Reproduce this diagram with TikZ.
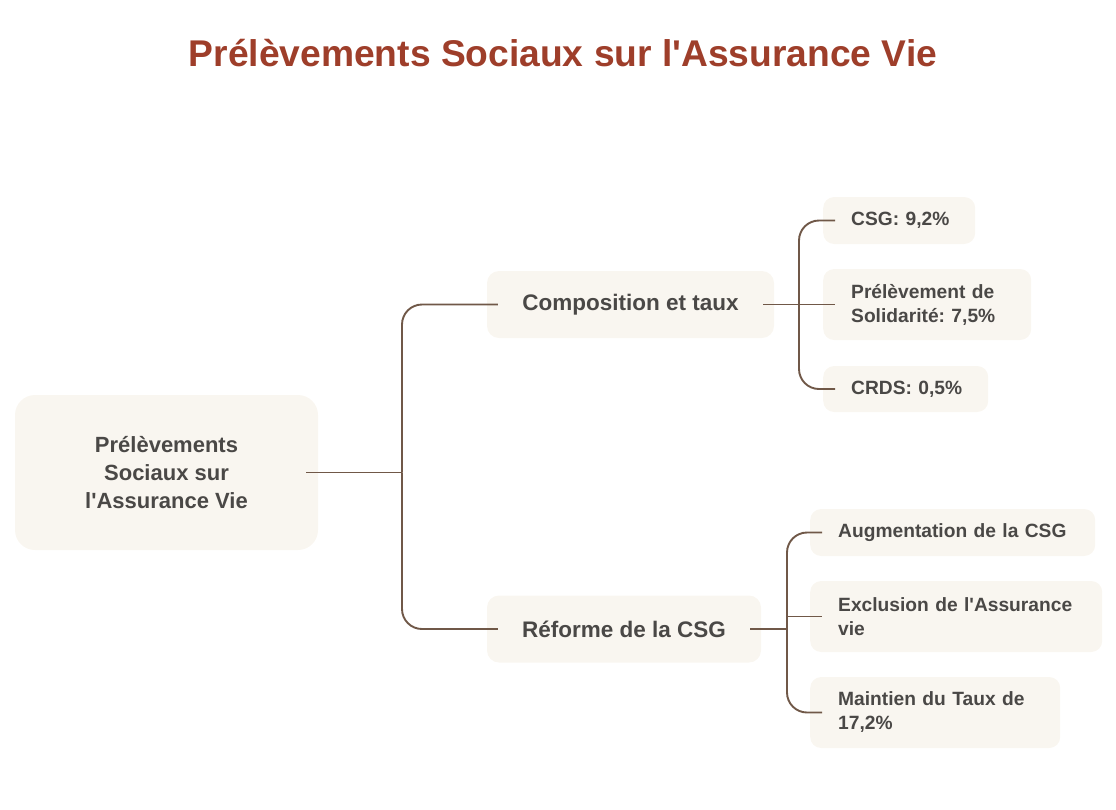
\documentclass[tikz,border=0pt]{standalone}
\usepackage{fontspec}
\setmainfont{Liberation Sans}
\usetikzlibrary{positioning}
\definecolor{boxfill}{RGB}{249,246,240}
\definecolor{linkc}{RGB}{112,88,72}
\definecolor{titlec}{RGB}{158,62,42}
\definecolor{textc}{RGB}{74,72,70}
\newcommand{\apos}{\textquotesingle}
\tikzset{
  % nodes
  basebox/.style   ={fill=boxfill,draw=none,text=textc,font=\bfseries},
  rootbox/.style   ={basebox,rounded corners=20pt,minimum width=303pt,minimum height=155pt,
                     align=center,font=\fontsize{22}{28}\selectfont\bfseries},
  topicbox/.style  ={basebox,rounded corners=12pt,minimum height=67pt,align=center,
                     font=\fontsize{22.5}{24}\selectfont\bfseries},
  leafbox/.style   ={basebox,rounded corners=11pt,anchor=west,inner xsep=28pt,align=left,
                     font=\fontsize{19.2}{24}\selectfont\bfseries},
  % connectors
  link/.style      ={draw=linkc,line width=1.9pt},
  branch/.style    ={link,rounded corners=20pt}
}
\begin{document}
\frenchspacing
\begin{tikzpicture}[x=1pt,y=-1pt]
  \useasboundingbox (0,0) rectangle (1116,809);
  % title
  \node[text=titlec,font=\fontsize{37.2}{40}\selectfont\bfseries] (title) at (563,53)
    {Prélèvements Sociaux sur l\apos Assurance Vie};
  % root and topics
  \node[rootbox] (root) at (166.5,472.5) {Prélèvements\\Sociaux sur\\l\apos Assurance Vie};
  \node[topicbox,minimum width=287pt] (comp) at (630.5,304.5) {Composition et taux};
  \node[topicbox,minimum width=274pt] (ref) at (624,629) {Réforme de la CSG};
  % leaves of comp
  \node[leafbox,text width=96pt,minimum height=47pt] (csg) at (823,220.5) {\mbox{CSG: 9,2\%}};
  \node[leafbox,text width=152pt,minimum height=71pt] (prel) at (823,304.5) {Prélèvement de\\Solidarité: 7,5\%};
  \node[leafbox,text width=109pt,minimum height=46pt] (crds) at (823,389) {\mbox{CRDS: 0,5\%}};
  % leaves of ref
  \node[leafbox,text width=229pt,minimum height=47pt] (aug) at (810,532.5) {\mbox{Augmentation de la CSG}};
  \node[leafbox,text width=236pt,minimum height=71pt] (excl) at (810,616.5) {\mbox{Exclusion de l\apos Assurance}\\vie};
  \node[leafbox,text width=194pt,minimum height=71pt] (maint) at (810,712.5) {\mbox{Maintien du Taux de}\\17,2\%};
  % junctions
  \coordinate (j0) at (402,472.5);
  \coordinate (j1) at (799,304.5);
  \coordinate (j2) at (787,629);
  % connectors
  \draw[link] ([xshift=-12pt]root.east) -- (j0);
  \draw[branch] (j0) |- ([xshift=11pt]comp.west);
  \draw[branch] (j0) |- ([xshift=11pt]ref.west);
  \draw[link] ([xshift=-11pt]comp.east) -- (j1);
  \draw[branch] (j1) |- ([xshift=12pt]csg.west);
  \draw[link] (j1) -- ([xshift=12pt]prel.west);
  \draw[branch] (j1) |- ([xshift=12pt]crds.west);
  \draw[link] ([xshift=-11pt]ref.east) -- (j2);
  \draw[branch] (j2) |- ([xshift=12pt]aug.west);
  \draw[link] (j2 |- excl.west) -- ([xshift=12pt]excl.west);
  \draw[branch] (j2) |- ([xshift=12pt]maint.west);
\end{tikzpicture}
\end{document}
